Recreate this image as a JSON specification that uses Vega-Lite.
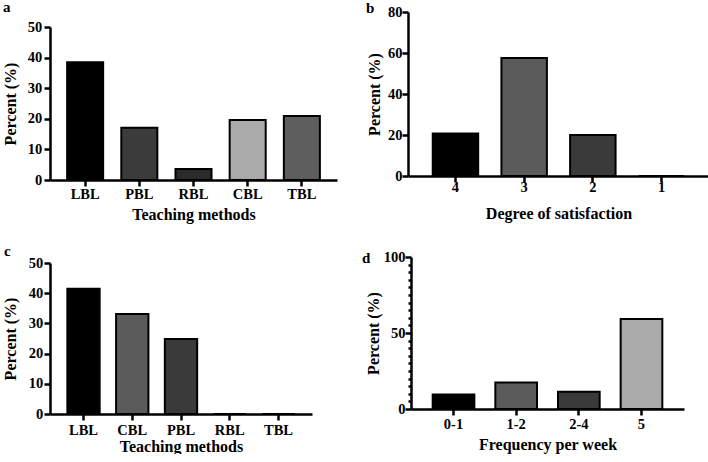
{
  "$schema": "https://vega.github.io/schema/vega-lite/v6.json",
  "padding": {"left": 2, "top": 0, "right": 0, "bottom": 0},
  "background": "white",
  "datasets": {
    "a": [
      {"method": "LBL", "percent": 38.5},
      {"method": "PBL", "percent": 17.1},
      {"method": "RBL", "percent": 3.6},
      {"method": "CBL", "percent": 19.6},
      {"method": "TBL", "percent": 20.9}
    ],
    "b": [
      {"degree": "4", "percent": 20.7},
      {"degree": "3", "percent": 57.6},
      {"degree": "2", "percent": 20.0},
      {"degree": "1", "percent": 0}
    ],
    "c": [
      {"method": "LBL", "percent": 41.5},
      {"method": "CBL", "percent": 33.1},
      {"method": "PBL", "percent": 24.8},
      {"method": "RBL", "percent": 0},
      {"method": "TBL", "percent": 0}
    ],
    "d": [
      {"freq": "0-1", "percent": 9.6},
      {"freq": "1-2", "percent": 17.4},
      {"freq": "2-4", "percent": 11.3},
      {"freq": "5", "percent": 59.2}
    ]
  },
  "config": {
    "view": {"stroke": null},
    "font": "Liberation Serif",
    "axis": {
      "domainColor": "black", "domainWidth": 2.5,
      "tickColor": "black", "tickWidth": 2.5, "tickSize": 6,
      "labelFont": "Liberation Serif", "labelFontWeight": "bold", "labelFontSize": 14.5, "labelColor": "black",
      "titleFont": "Liberation Serif", "titleFontSize": 16, "titleFontWeight": "bold", "titleColor": "black",
      "grid": false
    },
    "axisX": {"labelAngle": 0, "labelFontWeight": "bold"},
    "axisY": {"labelFontWeight": "bold"},
    "title": {"font": "Liberation Serif", "fontSize": 15, "fontWeight": "bold", "color": "black", "anchor": "start", "frame": "group", "baseline": "alphabetic"},
    "bar": {"stroke": "black", "strokeWidth": 2}
  },
  "resolve": {"scale": {"color": "independent"}},
  "spacing": 21,
  "vconcat": [
    {
      "spacing": 29,
      "resolve": {"scale": {"color": "independent"}},
      "hconcat": [
        {
          "data": {"name": "a"},
          "width": 287, "height": 168,
          "title": {"text": "a", "dx": -47, "offset": -3},
          "mark": {"type": "bar"},
          "encoding": {
            "x": {"field": "method", "type": "nominal", "sort": null,
              "scale": {"paddingInner": 0.335, "paddingOuter": 0.316},
              "axis": {"title": "Teaching methods", "labelPadding": 1.4, "titlePadding": 5.4, "labelFontWeight": "bold"}},
            "y": {"field": "percent", "type": "quantitative",
              "scale": {"domain": [0, 50], "range": [168, 15]},
              "axis": {"values": [0, 10, 20, 30, 40, 50], "title": "Percent (%)", "titlePadding": 9, "labelPadding": 2.3, "labelFontWeight": "bold"}},
            "color": {"field": "method", "type": "nominal", "legend": null,
              "scale": {"domain": ["LBL", "PBL", "RBL", "CBL", "TBL"], "range": ["#000000", "#3b3b3b", "#2b2b2b", "#aaaaaa", "#5e5e5e"]}}
          }
        },
        {
          "data": {"name": "b"},
          "width": 301, "height": 164,
          "title": {"text": "b", "dx": -42, "offset": -11.7},
          "mark": {"type": "bar"},
          "encoding": {
            "x": {"field": "degree", "type": "nominal", "sort": null,
              "scale": {"paddingInner": 0.338, "paddingOuter": 0.36},
              "axis": {"title": "Degree of satisfaction", "labelPadding": -1.9, "titlePadding": 12, "labelFontWeight": "bold"}},
            "y": {"field": "percent", "type": "quantitative",
              "scale": {"domain": [0, 80]},
              "axis": {"values": [0, 20, 40, 60, 80], "title": "Percent (%)", "titlePadding": 5, "labelPadding": 0, "labelFontWeight": "bold"}},
            "color": {"field": "degree", "type": "nominal", "legend": null,
              "scale": {"domain": ["4", "3", "2", "1"], "range": ["#000000", "#5b5b5b", "#3a3a3a", "#aaaaaa"]}}
          }
        }
      ]
    },
    {
      "spacing": 50,
      "resolve": {"scale": {"color": "independent"}},
      "hconcat": [
        {
          "data": {"name": "c"},
          "width": 262, "height": 157,
          "title": {"text": "c", "dx": -46, "offset": -4.25},
          "mark": {"type": "bar"},
          "encoding": {
            "x": {"field": "method", "type": "nominal", "sort": null,
              "scale": {"paddingInner": 0.337, "paddingOuter": 0.356},
              "axis": {"title": "Teaching methods", "labelPadding": 3, "titlePadding": 1.5, "labelFontWeight": "bold"}},
            "y": {"field": "percent", "type": "quantitative",
              "scale": {"domain": [0, 50], "range": [157, 6]},
              "axis": {"values": [0, 10, 20, 30, 40, 50], "title": "Percent (%)", "titlePadding": 10, "labelPadding": 1.3, "labelFontWeight": "bold"}},
            "color": {"field": "method", "type": "nominal", "legend": null,
              "scale": {"domain": ["LBL", "CBL", "PBL", "RBL", "TBL"], "range": ["#000000", "#5b5b5b", "#3a3a3a", "#aaaaaa", "#5e5e5e"]}}
          }
        },
        {
          "data": {"name": "d"},
          "width": 273, "height": 152,
          "title": {"text": "d", "dx": -49, "offset": -16.65},
          "mark": {"type": "bar"},
          "encoding": {
            "x": {"field": "freq", "type": "nominal", "sort": null,
              "scale": {"paddingInner": 0.335, "paddingOuter": 0.346},
              "axis": {"title": "Frequency per week", "labelPadding": 2.1, "titlePadding": 5.4, "labelFontWeight": "bold"}},
            "y": {"field": "percent", "type": "quantitative",
              "scale": {"domain": [0, 100]},
              "axis": {"values": [0, 5, 10, 15, 20, 25, 30, 35, 40, 45, 50, 55, 60, 65, 70, 75, 80, 85, 90, 95, 100],
                "labelExpr": "datum.value % 50 === 0 ? datum.label : ''",
                "tickSize": {"condition": {"test": "datum.value % 50 === 0", "value": 6}, "value": 3},
                "title": "Percent (%)", "titlePadding": 2, "labelPadding": 0, "labelFontWeight": "bold"}},
            "color": {"field": "freq", "type": "nominal", "legend": null,
              "scale": {"domain": ["0-1", "1-2", "2-4", "5"], "range": ["#000000", "#5b5b5b", "#3a3a3a", "#aaaaaa"]}}
          }
        }
      ]
    }
  ]
}
